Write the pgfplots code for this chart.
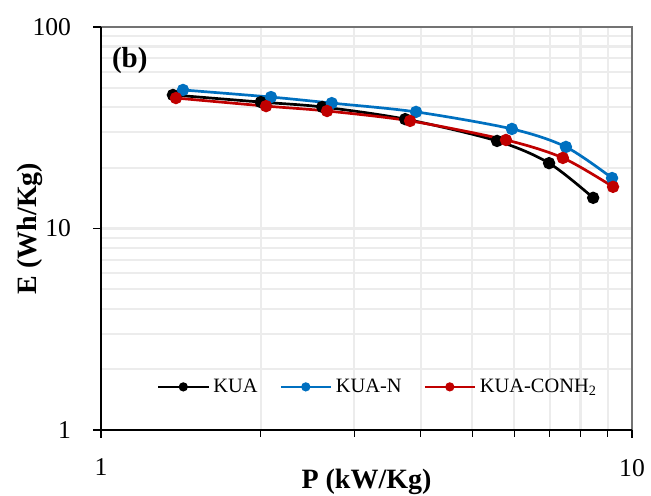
\documentclass[border=0pt]{standalone}
\usepackage{pgfplots}
\pgfplotsset{compat=1.18}
\usepackage{fontspec}
\setmainfont{Liberation Serif}
\definecolor{cblue}{RGB}{0,112,192}
\definecolor{cred}{RGB}{192,0,0}
\definecolor{gridc}{RGB}{236,236,236}
\begin{document}
\begin{tikzpicture}
\begin{axis}[
  xmode=log, ymode=log,
  scale only axis,
  width=265.5pt, height=201.5pt,
  xmin=1, xmax=10, ymin=1, ymax=100,
  xtick={1,10}, ytick={1,10,100},
  log ticks with fixed point,
  /pgf/number format/assume math mode=true,
  tick label style={font=\fontsize{12.8}{14}\selectfont},
  xticklabel style={yshift=-7pt},
  yticklabel style={xshift=-7.5pt},
  tick align=outside, tick pos=left,
  major tick length=4pt,
  minor x tick style={black},
  minor tick length=3.5pt,
  minor y tick style={draw=none},
  every tick/.style={black, line width=0.6pt},
  grid=both,
  major grid style={gridc, line width=1.1pt},
  minor grid style={gridc, line width=1.1pt},
  axis line style={draw=none},
  xlabel={\textbf{P (kW/Kg)}},
  ylabel={\textbf{E (Wh/Kg)}},
  every axis x label/.style={at={([yshift=-29pt]axis description cs:0.5,0)}, anchor=base, font=\fontsize{14}{16}\selectfont},
  every axis y label/.style={at={([xshift=-32pt]axis description cs:0,0.5)}, anchor=base, rotate=90, font=\fontsize{14}{16}\selectfont},
  legend columns=3,
  legend style={draw=none, fill=none, at={(axis description cs:0.105,0.107)}, anchor=west,
    inner sep=0pt, font=\fontsize{10.2}{12}\selectfont,
    /tikz/every even column/.append style={column sep=9pt}},
  legend image code/.code={\draw[mark repeat=2,mark phase=2,#1,line width=1.15pt,mark options={scale=0.85}] plot coordinates {(0pt,0pt) (12.5pt,0pt) (25pt,0pt)};},
  every axis plot/.append style={line width=1.35pt, smooth, tension=0.5},
  after end axis/.code={
    \draw[black!55, line width=0.6pt] (rel axis cs:0,1) -- (rel axis cs:1,1) -- (rel axis cs:1,0);
    \draw[black, line width=1pt] (rel axis cs:0,1) -- (rel axis cs:0,0) -- (rel axis cs:1,0);
  },
]
\addplot[black, mark=*, mark options={scale=1.2}] coordinates {
(1.366,46.0) (2.00,42.4) (2.61,40.1) (3.74,34.9) (5.57,27.2) (6.98,21.1) (8.45,14.2)};
\addlegendentry{KUA}
\addplot[cblue, mark=*, mark options={scale=1.2}] coordinates {
(1.427,48.7) (2.09,44.9) (2.72,41.9) (3.92,37.9) (5.94,31.2) (7.51,25.4) (9.17,17.8)};
\addlegendentry{KUA-N}
\addplot[cred, mark=*, mark options={scale=1.2}] coordinates {
(1.384,44.4) (2.046,40.5) (2.665,38.3) (3.82,34.2) (5.79,27.5) (7.41,22.4) (9.21,16.1)};
\addlegendentry{KUA-CONH\textsubscript{2}}
\node[anchor=base west, font=\bfseries\fontsize{14.5}{16}\selectfont, inner sep=0pt] at (axis description cs:0.02,0.9) {(b)};
\end{axis}
\pgfresetboundingbox
\path[use as bounding box] (-50.5pt,-33pt) rectangle (275pt,215pt);
\end{tikzpicture}
\end{document}
